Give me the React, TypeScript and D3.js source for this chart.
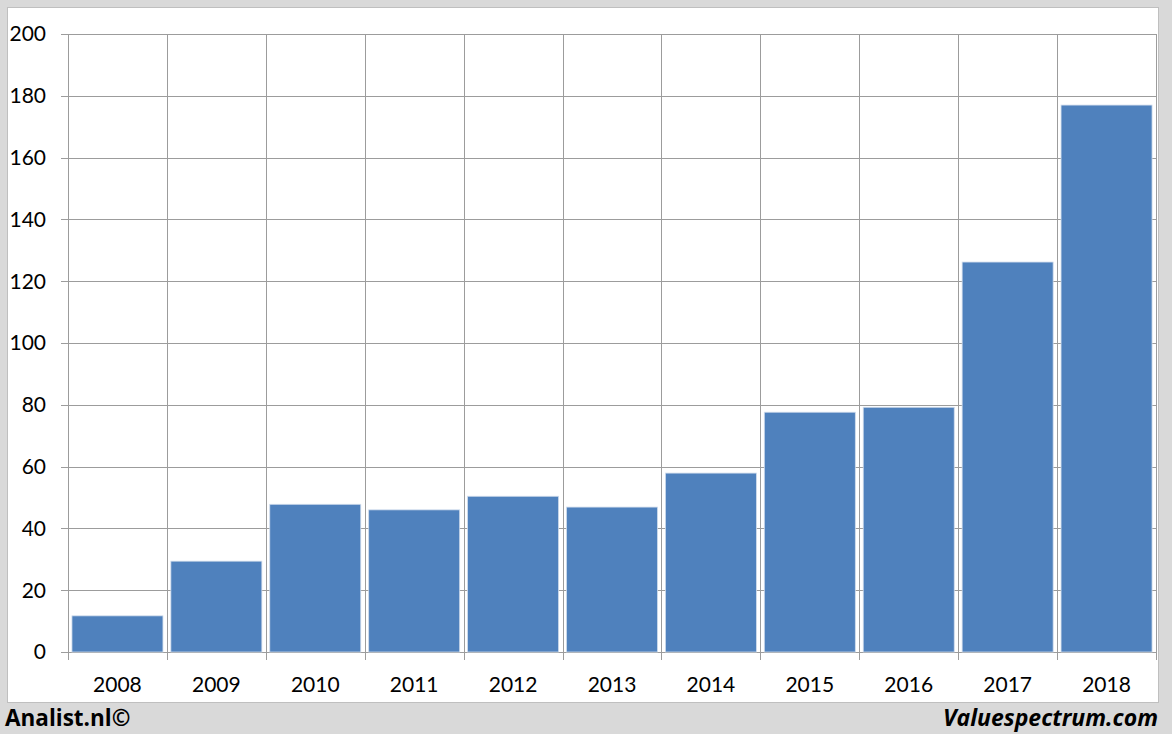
import React, { useEffect, useRef } from "react";
import * as d3 from "d3";

const years = ["2008","2009","2010","2011","2012","2013","2014","2015","2016","2017","2018"];
const values = [11.7, 29.4, 47.8, 46.0, 50.4, 46.9, 57.9, 77.6, 79.2, 126.2, 177.0];
const yTicks = [0, 20, 40, 60, 80, 100, 120, 140, 160, 180, 200];

const W = 1172, H = 734;
const plot = { left: 68, right: 1156, top: 34, bottom: 652 };
const FONT = "Lato, 'Open Sans', sans-serif";

export default function App() {
  const ref = useRef<SVGSVGElement>(null);
  useEffect(() => {
    const svg = d3.select(ref.current);
    svg.selectAll("*").remove();
    svg.append("rect").attr("width", W).attr("height", H).attr("fill", "#d9d9d9");
    svg.append("rect").attr("x", 7.5).attr("y", 7.5).attr("width", 1151).attr("height", 695)
      .attr("fill", "#ffffff").attr("stroke", "#bfbfbf").attr("stroke-width", 1);

    const x = d3.scaleBand<string>().domain(years).range([plot.left, plot.right]).paddingInner(0.08).paddingOuter(0.04);
    const xs = d3.scaleBand<string>().domain(years).range([plot.left, plot.right]);
    const y = d3.scaleLinear().domain([0, 200]).range([plot.bottom, plot.top]);

    const g = svg.append("g");
    g.selectAll("line.h").data(yTicks).enter().append("line")
      .attr("x1", plot.left - 7).attr("x2", plot.right)
      .attr("y1", d => Math.round(y(d)) + 0.5).attr("y2", d => Math.round(y(d)) + 0.5)
      .attr("stroke", "#9c9c9c").attr("stroke-width", 1);
    const bounds = years.map(d => xs(d)!).concat([plot.right]);
    g.selectAll("line.v").data(bounds).enter().append("line")
      .attr("x1", d => Math.round(d) + 0.5).attr("x2", d => Math.round(d) + 0.5)
      .attr("y1", plot.top).attr("y2", plot.bottom + 8)
      .attr("stroke", "#9c9c9c").attr("stroke-width", 1);

    g.selectAll("rect.bar").data(values).enter().append("rect")
      .attr("x", (d, i) => x(years[i])!)
      .attr("width", x.bandwidth())
      .attr("y", d => y(d))
      .attr("height", d => plot.bottom - y(d))
      .attr("fill", "#4f81bd").attr("stroke", "#d0dcec").attr("stroke-width", 0.8);

    g.selectAll("text.y").data(yTicks).enter().append("text")
      .attr("x", 46).attr("y", d => y(d)).attr("dy", "0.35em")
      .attr("text-anchor", "end").attr("font-family", FONT).attr("font-size", 21)
      .attr("fill", "#000").text(d => d);

    g.selectAll("text.x").data(years).enter().append("text")
      .attr("x", d => xs(d)! + xs.bandwidth() / 2).attr("y", 692)
      .attr("text-anchor", "middle").attr("font-family", FONT).attr("font-size", 21)
      .attr("fill", "#000").text(d => d);

    svg.append("text").attr("x", 5).attr("y", 726).attr("font-family", "'Open Sans', sans-serif")
      .attr("font-weight", "bold").attr("font-size", 22.5).attr("fill", "#000").text("Analist.nl©");
    svg.append("text").attr("x", 1158).attr("y", 726).attr("text-anchor", "end").attr("font-family", "'Open Sans', sans-serif")
      .attr("font-weight", "bold").attr("font-style", "italic").attr("font-size", 23).attr("fill", "#000").text("Valuespectrum.com");
  }, []);
  return (
    <svg ref={ref} width={W} height={H} style={{ position: "absolute", left: 0, top: 0, display: "block" }} />
  );
}
